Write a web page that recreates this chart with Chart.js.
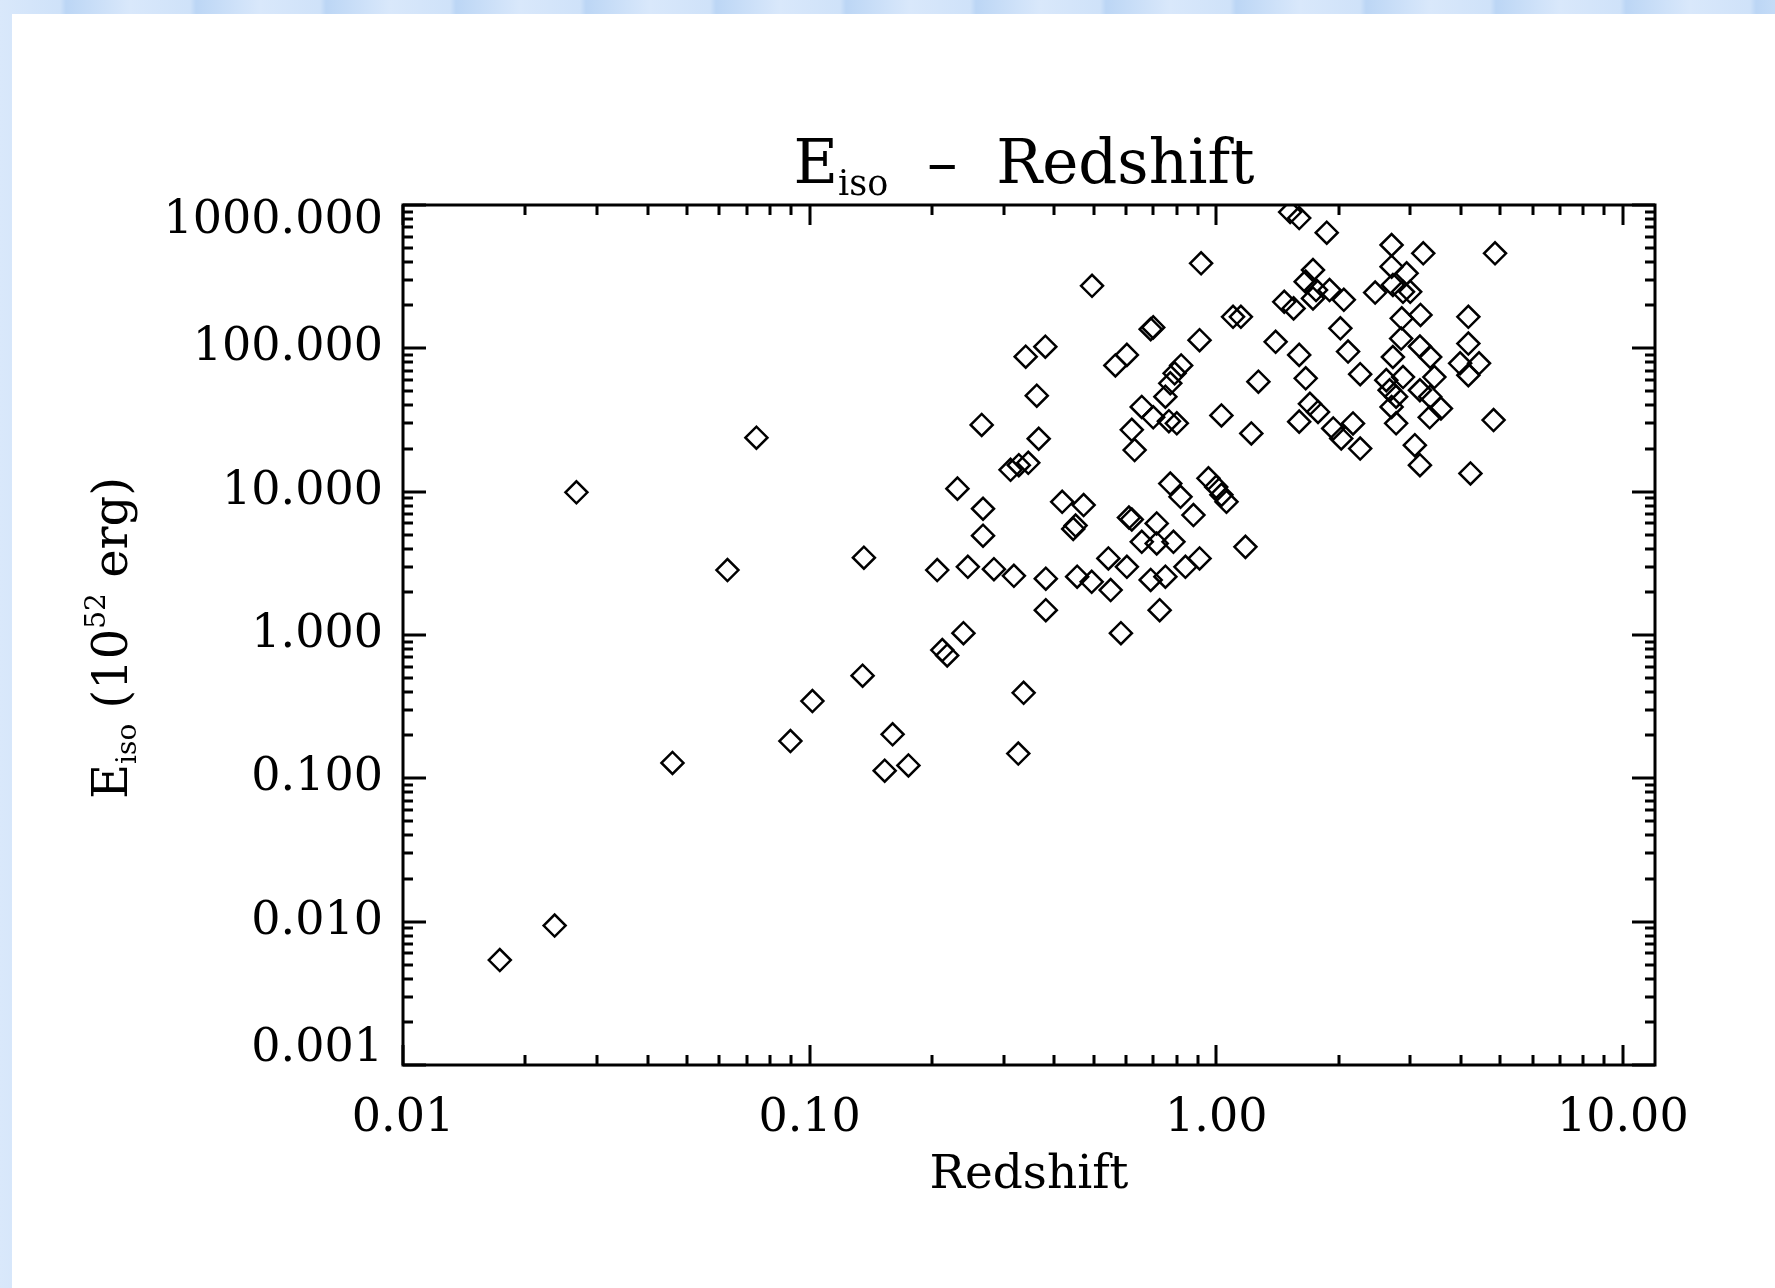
<!DOCTYPE html>
<html>
<head>
<meta charset="utf-8">
<title>Eiso - Redshift</title>
<script src="https://cdn.jsdelivr.net/npm/chart.js@4.4.1/dist/chart.umd.min.js"></script>
<style>
  html, body { margin: 0; padding: 0; }
  body {
    width: 1775px; height: 1288px; overflow: hidden; position: relative;
    background: repeating-linear-gradient(90deg, #d9e8fb 0px, #cfe2f9 60px, #bcd6f5 66px, #d9e8fb 130px);
  }
  #page { position: absolute; left: 12px; top: 14px; right: 0; bottom: 0; background: #fff; }
  #c { position: absolute; left: 0; top: 0; }
</style>
</head>
<body>
<div id="page"></div>
<canvas id="c" width="1775" height="1288"></canvas>
<script>
// Eiso gegen Rotverschiebung, logarithmische Achsen
const redshift = [
  0.0173, 0.0236, 0.0267, 0.046, 0.0628, 0.074, 0.0897, 0.1016, 0.135, 0.136,
  0.153, 0.16, 0.175, 0.206, 0.212, 0.218, 0.231, 0.239, 0.245, 0.265,
  0.267, 0.267, 0.284, 0.312, 0.318, 0.326, 0.327, 0.336, 0.34, 0.345,
  0.362, 0.366, 0.38, 0.381, 0.381, 0.418, 0.445, 0.451, 0.455, 0.472,
  0.494, 0.495, 0.543, 0.55, 0.565, 0.583, 0.603, 0.603, 0.61, 0.62,
  0.62, 0.63, 0.656, 0.656, 0.69, 0.70, 0.69, 0.70, 0.714, 0.714,
  0.726, 0.75, 0.75, 0.765, 0.771, 0.771, 0.785, 0.79, 0.80, 0.817,
  0.82, 0.84, 0.879, 0.91, 0.918, 0.91, 0.957, 1.0, 1.03, 1.03,
  1.06, 1.10, 1.15, 1.18, 1.22, 1.27, 1.40, 1.47, 1.52, 1.55,
  1.60, 1.60, 1.60, 1.66, 1.66, 1.70, 1.73, 1.73, 1.76, 1.78,
  1.87, 1.90, 1.94, 2.02, 2.03, 2.06, 2.11, 2.17, 2.26, 2.26,
  2.46, 2.62, 2.67, 2.70, 2.70, 2.70, 2.72, 2.72, 2.77, 2.77,
  2.85, 2.86, 2.88, 2.88, 2.94, 3.0, 3.08, 3.17, 3.17, 3.17,
  3.18, 3.23, 3.35, 3.36, 3.36, 3.44, 3.57, 3.98, 4.17, 4.17,
  4.17, 4.22, 4.43, 4.81, 4.85
];
const eiso = [
  0.0054, 0.0094, 9.9, 0.128, 2.84, 23.8, 0.182, 0.346, 0.52, 3.46,
  0.113, 0.203, 0.123, 2.84, 0.785, 0.72, 10.5, 1.03, 2.99, 29.2,
  7.6, 4.93, 2.88, 14.2, 2.59, 0.149, 15.3, 0.395, 87.5, 15.9,
  46.7, 23.4, 102.6, 2.47, 1.49, 8.5, 5.5, 5.8, 2.55, 8.06,
  2.35, 273, 3.42, 2.06, 76, 1.03, 90, 2.99, 6.6, 6.4,
  27, 19.5, 39, 4.47, 136, 140, 2.42, 33, 6.0, 4.35,
  1.49, 46, 2.55, 31, 57, 11.4, 4.47, 67, 30, 9.2,
  76, 2.99, 6.87, 114, 392, 3.42, 12.4, 10.8, 9.5, 34,
  8.5, 166, 166, 4.12, 25.5, 58.5, 111, 211, 893, 190,
  811, 90, 30.8, 292, 61.8, 41, 352, 223, 255, 36,
  641, 255, 27.6, 138, 23.5, 218, 95, 29.9, 20, 66,
  245, 60, 51, 526, 371, 39, 277, 87, 46, 30,
  117, 162, 248, 63, 334, 248, 21.1, 103, 51, 15.3,
  171, 460, 33, 87, 46, 63, 38, 78.6, 166, 108,
  65, 13.4, 78.6, 31.6, 460
];

const xDecades = [0.01, 0.1, 1, 10];
const xTickLabels = ['0.01', '0.10', '1.00', '10.00'];
const yDecades = [0.001, 0.01, 0.1, 1, 10, 100, 1000];
const yTickLabels = ['0.001', '0.010', '0.100', '1.000', '10.000', '100.000', '1000.000'];

const xMin = 0.01, xMax = 12;
const yMin = 0.001, yMax = 1000;
const schrift = '"DejaVu Serif", "Liberation Serif", serif';

function decadeIndex(decades, v) {
  return decades.findIndex(d => Math.abs(v / d - 1) < 1e-6);
}

// Haupt- und Nebenstriche je Dekade (1..9)
function logTicks(decades, min, max) {
  const out = [];
  decades.forEach(d => {
    for (let k = 1; k <= 9; k++) {
      const v = k * d;
      if (v >= min * 0.9999 && v <= max * 1.0001) out.push({ value: v });
    }
  });
  return out;
}

// Rahmen mit nach innen zeigenden Strichen auf allen vier Seiten
const rahmen = {
  id: 'rahmen',
  afterDatasetsDraw(chart) {
    const { ctx, chartArea: a, scales } = chart;
    const x = scales.x, y = scales.y;
    ctx.save();
    ctx.strokeStyle = '#000';
    ctx.lineWidth = 3;
    ctx.strokeRect(a.left, a.top, a.right - a.left, a.bottom - a.top);
    ctx.beginPath();
    x.ticks.forEach(t => {
      const px = Math.round(x.getPixelForValue(t.value));
      const len = decadeIndex(xDecades, t.value) >= 0 ? 20 : 10;
      ctx.moveTo(px, a.bottom); ctx.lineTo(px, a.bottom - len);
      ctx.moveTo(px, a.top); ctx.lineTo(px, a.top + len);
    });
    y.ticks.forEach(t => {
      const py = Math.round(y.getPixelForValue(t.value));
      const len = decadeIndex(yDecades, t.value) >= 0 ? 23 : 10;
      ctx.moveTo(a.left, py); ctx.lineTo(a.left + len, py);
      ctx.moveTo(a.right, py); ctx.lineTo(a.right - len, py);
    });
    ctx.stroke();
    ctx.restore();
  }
};

function drawRich(ctx, parts, cx, cy) {
  let total = 0;
  parts.forEach(p => {
    ctx.font = `${p.size}px ${schrift}`;
    p.w = ctx.measureText(p.t).width;
    total += p.w;
  });
  let px = cx - total / 2;
  parts.forEach(p => {
    ctx.font = `${p.size}px ${schrift}`;
    ctx.fillText(p.t, px, cy + p.dy);
    px += p.w;
  });
}

// Titel und y-Achsentitel mit Hoch-/Tiefstellung
const titel = {
  id: 'titel',
  afterDraw(chart) {
    const { ctx, chartArea: a } = chart;
    ctx.save();
    ctx.fillStyle = '#000';
    ctx.textBaseline = 'alphabetic';
    drawRich(ctx, [
      { t: 'E', size: 61, dy: 0 },
      { t: 'iso', size: 35, dy: 12 },
      { t: '  \u2013  Redshift', size: 61, dy: 0 }
    ], (a.left + a.right) / 2 - 5, a.top - 22);
    ctx.translate(a.left - 276, (a.top + a.bottom) / 2 + 3);
    ctx.rotate(-Math.PI / 2);
    drawRich(ctx, [
      { t: 'E', size: 48, dy: 0 },
      { t: 'iso', size: 28, dy: 9 },
      { t: ' (10', size: 48, dy: 0 },
      { t: '52', size: 28, dy: -22 },
      { t: ' erg)', size: 48, dy: 0 }
    ], 0, 0);
    ctx.restore();
  }
};

const punkte = redshift.map((z, i) => ({ x: z, y: eiso[i] }));

new Chart(document.getElementById('c'), {
  type: 'scatter',
  data: {
    datasets: [{
      label: 'GRB',
      data: punkte,
      pointStyle: 'rectRot',
      pointRadius: 11,
      pointBorderWidth: 2.5,
      pointBorderColor: '#000',
      pointBackgroundColor: 'rgba(0,0,0,0)'
    }]
  },
  options: {
    responsive: false,
    animation: false,
    devicePixelRatio: 1,
    layout: { padding: { top: 205, right: 120, left: 0, bottom: 0 } },
    plugins: { legend: { display: false }, tooltip: { enabled: false } },
    scales: {
      x: {
        type: 'logarithmic',
        min: xMin, max: xMax,
        afterBuildTicks: s => { s.ticks = logTicks(xDecades, xMin, xMax); },
        afterFit: s => { s.height = 223; },
        grid: { display: false, drawTicks: false },
        border: { display: false },
        ticks: {
          autoSkip: false, maxRotation: 0, padding: 26, color: '#000',
          font: { family: schrift, size: 46 },
          callback: v => {
            const i = decadeIndex(xDecades, v);
            return i >= 0 ? xTickLabels[i] : '';
          }
        },
        title: {
          display: true, text: 'Redshift', color: '#000',
          font: { family: schrift, size: 47 },
          padding: { top: 0, bottom: 84 }
        }
      },
      y: {
        type: 'logarithmic',
        min: yMin, max: yMax,
        afterBuildTicks: s => { s.ticks = logTicks(yDecades, yMin, yMax); },
        afterFit: s => { s.width = 403; },
        grid: { display: false, drawTicks: false },
        border: { display: false },
        ticks: {
          autoSkip: false, padding: 20, color: '#000',
          font: { family: schrift, size: 46, lineHeight: 0.7 },
          callback: v => {
            const i = decadeIndex(yDecades, v);
            if (i < 0) return '';
            if (i === yDecades.length - 1) return ['', yTickLabels[i]];
            if (i === 0) return [yTickLabels[i], ''];
            return yTickLabels[i];
          }
        }
      }
    }
  },
  plugins: [rahmen, titel]
});
</script>
</body>
</html>
